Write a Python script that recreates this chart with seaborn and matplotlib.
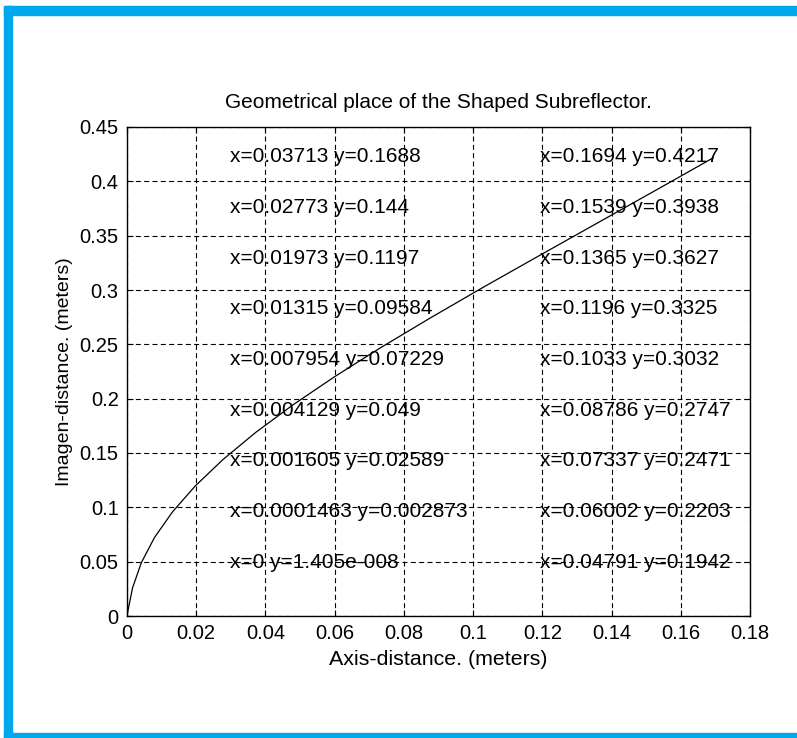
import matplotlib
matplotlib.use("Agg")
import matplotlib.pyplot as plt
import seaborn as sns
import pandas as pd
from matplotlib.patches import Rectangle

# Data (points of the shaped subreflector curve, as annotated)
x_vals = [0, 0.0001463, 0.001605, 0.004129, 0.007954, 0.01315, 0.01973, 0.02773,
          0.03713, 0.04791, 0.06002, 0.07337, 0.08786, 0.1033, 0.1196, 0.1365,
          0.1539, 0.1694]
y_vals = [1.405e-8, 0.002873, 0.02589, 0.049, 0.07229, 0.09584, 0.1197, 0.144,
          0.1688, 0.1942, 0.2203, 0.2471, 0.2747, 0.3032, 0.3325, 0.3627,
          0.3938, 0.4217]
x_labels_txt = ["0", "0.0001463", "0.001605", "0.004129", "0.007954", "0.01315",
                "0.01973", "0.02773", "0.03713", "0.04791", "0.06002", "0.07337",
                "0.08786", "0.1033", "0.1196", "0.1365", "0.1539", "0.1694"]
y_labels_txt = ["1.405e-008", "0.002873", "0.02589", "0.049", "0.07229", "0.09584",
                "0.1197", "0.144", "0.1688", "0.1942", "0.2203", "0.2471",
                "0.2747", "0.3032", "0.3325", "0.3627", "0.3938", "0.4217"]
x_ticks = [0, 0.02, 0.04, 0.06, 0.08, 0.1, 0.12, 0.14, 0.16, 0.18]
y_ticks = [0, 0.05, 0.1, 0.15, 0.2, 0.25, 0.3, 0.35, 0.4, 0.45]
x_ticklabels = ["0", "0.02", "0.04", "0.06", "0.08", "0.1", "0.12", "0.14", "0.16", "0.18"]
y_ticklabels = ["0", "0.05", "0.1", "0.15", "0.2", "0.25", "0.3", "0.35", "0.4", "0.45"]

title = "Geometrical place of the Shaped Subreflector."
xlabel = "Axis-distance. (meters)"
ylabel = "Imagen-distance. (meters)"

sns.set_style("white")
plt.rcParams['font.family'] = ['Liberation Sans', 'DejaVu Sans']
plt.rcParams['text.color'] = 'black'
plt.rcParams['axes.labelcolor'] = 'black'
plt.rcParams['xtick.color'] = 'black'
plt.rcParams['ytick.color'] = 'black'

W, H = 797, 738
fig = plt.figure(figsize=(W / 100, H / 100), dpi=100)
fig.patch.set_facecolor("white")

blue = "#00a8ec"
# frame bands
fig.patches.append(Rectangle((4 / W, 1 - 15 / H), 1, 9 / H, transform=fig.transFigure,
                             color=blue, zorder=0))
fig.patches.append(Rectangle((4 / W, 0), 8 / W, 1 - 6 / H, transform=fig.transFigure,
                             color=blue, zorder=0))
fig.patches.append(Rectangle((4 / W, 0), 1, 5 / H, transform=fig.transFigure,
                             color=blue, zorder=0))

ax = fig.add_axes([127 / W, 1 - 616 / H, (750 - 127) / W, (616 - 127) / H])
df = pd.DataFrame({"x": x_vals, "y": y_vals})
sns.lineplot(data=df, x="x", y="y", sort=False, color="black", linewidth=0.9, ax=ax)

ax.set_xlim(0, 0.18)
ax.set_ylim(0, 0.45)
ax.set_xticks(x_ticks)
ax.set_xticklabels(x_ticklabels)
ax.set_yticks(y_ticks)
ax.set_yticklabels(y_ticklabels)
ax.grid(True, color="black", linestyle=(0, (4.5, 3)), linewidth=0.8)
for s in ax.spines.values():
    s.set_color("black")
    s.set_linewidth(1.0)
ax.tick_params(direction="in", length=4, width=0.8, color="black", labelcolor="black",
               labelsize=14.5, top=True, right=True, bottom=True, left=True, pad=6)

ax.set_title(title, fontsize=15, pad=14, color="black")
ax.set_xlabel(xlabel, fontsize=15.4, labelpad=5, color="black")
ax.set_ylabel(ylabel, fontsize=14, labelpad=5, color="black")

# annotations: two columns, nine rows each
n = len(x_vals)
half = n // 2
row_top = 0.4224
row_step = 0.0466
for i in range(n):
    if i < half:
        col_x = 0.0298
        row = half - 1 - i
    else:
        col_x = 0.1193
        row = n - 1 - i
    ty = row_top - row * row_step
    ax.text(col_x, ty, f"x={x_labels_txt[i]} y={y_labels_txt[i]}", fontsize=15,
            ha="left", va="center", color="black")

fig.savefig("out.png", dpi=100, facecolor="white")
